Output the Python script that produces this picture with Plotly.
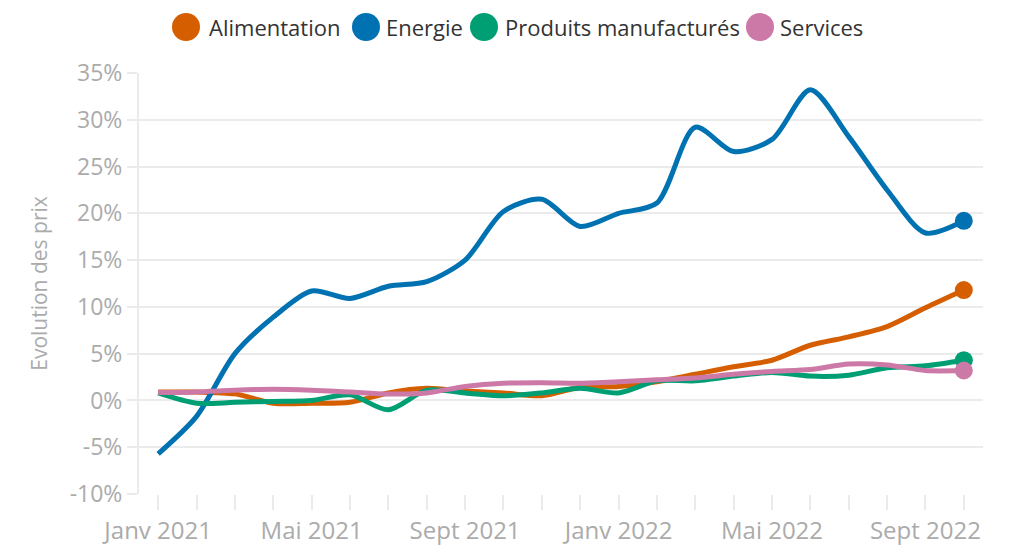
import plotly.graph_objects as go

months = ["Janv 2021", "Févr 2021", "Mars 2021", "Avr 2021", "Mai 2021", "Juin 2021",
          "Juil 2021", "Août 2021", "Sept 2021", "Oct 2021", "Nov 2021", "Déc 2021",
          "Janv 2022", "Févr 2022", "Mars 2022", "Avr 2022", "Mai 2022", "Juin 2022",
          "Juil 2022", "Août 2022", "Sept 2022", "Oct 2022"]

alimentation = [0.9, 0.9, 0.7, -0.3, -0.3, -0.2, 0.8, 1.3, 1.0, 0.8, 0.5, 1.4,
                1.5, 2.0, 2.8, 3.6, 4.3, 5.9, 6.8, 7.9, 9.9, 11.8]
energie = [-5.7, -1.7, 5.0, 8.9, 11.7, 10.9, 12.2, 12.7, 15.0, 20.2, 21.5, 18.6,
           20.0, 21.1, 29.2, 26.6, 27.9, 33.2, 28.2, 22.5, 17.9, 19.2]
produits = [0.8, -0.3, -0.2, -0.1, 0.0, 0.6, -1.0, 1.1, 0.8, 0.5, 0.8, 1.3,
            0.8, 2.1, 2.1, 2.6, 3.0, 2.6, 2.7, 3.5, 3.7, 4.3]
services = [0.85, 0.9, 1.1, 1.2, 1.1, 0.9, 0.7, 0.8, 1.5, 1.85, 1.9, 1.85,
            2.0, 2.2, 2.4, 2.8, 3.1, 3.3, 3.9, 3.8, 3.2, 3.2]

series_names = ["Alimentation", "Energie", "Produits manufacturés", "Services"]
series_values = [alimentation, energie, produits, services]
series_colors = ["#D55E00", "#0072B2", "#009E73", "#CC79A7"]

tick_labels = ["Janv 2021", "Mai 2021", "Sept 2021", "Janv 2022", "Mai 2022", "Sept 2022"]
y_ticks = [-10, -5, 0, 5, 10, 15, 20, 25, 30, 35]

FONT = "Open Sans"
GRID = "#ebebeb"
TICKC = "#ababab"

W, H = 1024, 559
ML, MR, MT, MB = 131, 49, 65, 73
PW, PH = W - ML - MR, H - MT - MB

fig = go.Figure()
for name, vals, col in zip(series_names, series_values, series_colors):
    fig.add_trace(go.Scatter(
        x=months, y=vals, mode="lines", name=name,
        line=dict(color=col, width=5, shape="spline", smoothing=0.8),
        showlegend=False,
    ))
for name, vals, col in zip(series_names, series_values, series_colors):
    fig.add_trace(go.Scatter(
        x=months[-1:], y=vals[-1:], mode="markers", name=name,
        marker=dict(size=18, color=col, opacity=1, line=dict(width=0)),
        showlegend=False,
    ))

# Legend (drawn manually to get large circular swatches)
legend_circle_px = [178, 358, 476, 752]   # circle centres (figure px)
legend_text_px = [199, 376, 495, 770]     # text left edges (figure px)
legend_y = 1 + (MT - 19) / PH
for name, col, cx, tx in zip(series_names, series_colors, legend_circle_px, legend_text_px):
    xc = (cx - ML) / PW
    fig.add_shape(type="circle", xref="paper", yref="paper",
                  xsizemode="pixel", ysizemode="pixel",
                  xanchor=xc, yanchor=legend_y,
                  x0=-14, x1=14, y0=-14, y1=14,
                  fillcolor=col, line=dict(width=0), layer="above")
    fig.add_annotation(text=name, xref="paper", yref="paper",
                       x=(tx - ML) / PW, y=legend_y, xanchor="left", yanchor="middle",
                       showarrow=False, font=dict(size=22, color="#333333", family=FONT))

fig.update_layout(
    width=W, height=H,
    margin=dict(l=ML, r=MR, t=MT, b=MB, autoexpand=False),
    paper_bgcolor="white", plot_bgcolor="white",
    font=dict(family=FONT, color=TICKC, size=18),
    showlegend=False,
    xaxis=dict(
        type="category", categoryorder="array", categoryarray=months,
        range=[-0.5, len(months) - 0.5], automargin=False,
        tickmode="array", tickvals=months,
        ticktext=[m if m in tick_labels else "" for m in months],
        ticks="outside", ticklen=15, tickwidth=2, tickcolor=GRID,
        showgrid=False, showline=False, zeroline=False,
        tickfont=dict(size=24, color=TICKC),
    ),
    yaxis=dict(
        range=[-10, 35], tickmode="array", tickvals=y_ticks, automargin=False,
        ticktext=[f"{v}%" for v in y_ticks],
        ticks="outside", ticklen=10, tickwidth=2, tickcolor=GRID,
        showgrid=True, gridcolor=GRID, gridwidth=2,
        showline=True, linecolor=GRID, linewidth=2, zeroline=False,
        title=dict(text="Evolution des prix", font=dict(size=21, color=TICKC), standoff=16),
        tickfont=dict(size=23, color=TICKC),
    ),
)

fig.write_html("out.html")
